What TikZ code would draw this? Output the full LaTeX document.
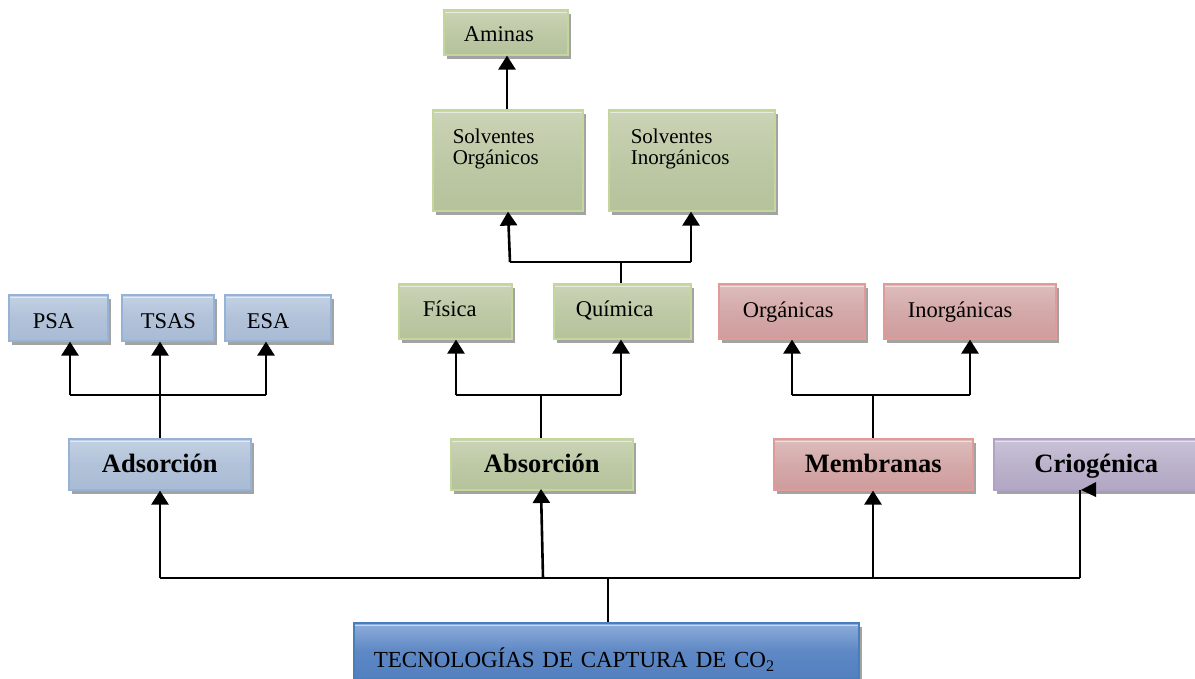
\documentclass[tikz,border=0pt]{standalone}
\usepackage{fontspec}
\setmainfont{Liberation Serif}
\usetikzlibrary{arrows.meta,shadows}

% palette
\definecolor{bluefillA}{HTML}{C4D1E3}
\definecolor{bluefillB}{HTML}{A9BBD4}
\definecolor{blueedge}{HTML}{95B3D7}
\definecolor{greenfillA}{HTML}{CBD4B6}
\definecolor{greenfillB}{HTML}{B5C29B}
\definecolor{greenedge}{HTML}{C3D69B}
\definecolor{redfillA}{HTML}{DDBDBD}
\definecolor{redfillB}{HTML}{CF9C9C}
\definecolor{rededge}{HTML}{E19A9A}
\definecolor{purpfillA}{HTML}{CAC3D7}
\definecolor{purpfillB}{HTML}{B2A7C4}
\definecolor{purpedge}{HTML}{B3A2C7}
\definecolor{mainfillA}{HTML}{8FAEDA}
\definecolor{mainfillB}{HTML}{527FC0}
\definecolor{mainedge}{HTML}{4A7EBB}
\definecolor{shadowgrey}{HTML}{A3A3A3}

\tikzset{
  box/.style={draw, line width=1.6pt, inner sep=0pt, anchor=north west,
    drop shadow={shadow xshift=3.5pt, shadow yshift=-4.5pt, fill=shadowgrey, opacity=1},
    path picture={\draw[white, opacity=0.55, line width=1.6pt]
      ([yshift=-2.6pt]path picture bounding box.north west) --
      ([yshift=-2.6pt]path picture bounding box.north east);}},
  bluebox/.style={box, draw=blueedge, top color=bluefillA, bottom color=bluefillB, middle color=bluefillB!70!bluefillA},
  greenbox/.style={box, draw=greenedge, top color=greenfillA, bottom color=greenfillB, middle color=greenfillB!60!greenfillA},
  redbox/.style={box, draw=rededge, top color=redfillA, bottom color=redfillB, middle color=redfillB!60!redfillA},
  purpbox/.style={box, draw=purpedge, top color=purpfillA, bottom color=purpfillB, middle color=purpfillB!60!purpfillA},
  mainbox/.style={box, draw=mainedge, top color=mainfillA, bottom color=mainfillB, middle color=mainfillB!80!mainfillA},
  small/.style={font=\fontsize{22.5}{25}\selectfont, align=left, text height=#1, text depth=0pt},
  small/.default=11pt,
  big/.style={font=\fontsize{26.5}{30}\selectfont\bfseries, align=center, text height=16pt, text depth=0pt},
  arr/.style={line width=2.6pt, -{Triangle[width=17pt,length=14pt]}},
  link/.style={line width=2.6pt},
  stem/.style={line width=2pt},
}

\begin{document}
\begin{tikzpicture}[x=1pt,y=-1pt]
\useasboundingbox (0,0) rectangle (1195,679);

% top row of absorption solvents
\node[greenbox, minimum width=124pt, minimum height=45pt, text width=84pt, small=19pt] (aminas) at (443,9) {Aminas};
\node[greenbox, minimum width=150pt, minimum height=101pt] (solorg) at (432,109)
  {\parbox[c][62pt][t]{110pt}{\fontsize{21}{21}\selectfont Solventes\\Orgánicos}};
\node[greenbox, minimum width=166pt, minimum height=101pt] (solinorg) at (608,109)
  {\parbox[c][62pt][t]{122pt}{\fontsize{21}{21}\selectfont Solventes\\Inorgánicos}};

% second-level branches
\node[bluebox, minimum width=99pt, minimum height=46pt, text width=51pt, small=21pt] (psa) at (8,294) {PSA};
\node[bluebox, minimum width=92pt, minimum height=46pt, text width=54pt, small=21pt] (tsas) at (121,294) {TSAS};
\node[bluebox, minimum width=106pt, minimum height=46pt, text width=62pt, small=21pt] (esa) at (224,294) {ESA};

\node[greenbox, minimum width=113pt, minimum height=55pt, text width=65pt, small] (fisica) at (398,283) {Física};
\node[greenbox, minimum width=137pt, minimum height=55pt, text width=93pt, small] (quimica) at (553,283) {Química};

\node[redbox, minimum width=146pt, minimum height=55pt, text width=98pt, small=13pt] (organ) at (718,283) {Orgánicas};
\node[redbox, minimum width=172pt, minimum height=55pt, text width=124pt, small=13pt] (inorgan) at (883,283) {Inorgánicas};

% technology families
\node[bluebox, minimum width=182pt, minimum height=51pt, big] (adsor) at (68,438) {Adsorción};
\node[greenbox, minimum width=182pt, minimum height=51pt, big] (absor) at (450,438) {Absorción};
\node[redbox, minimum width=199pt, minimum height=51pt, big] (membr) at (773,438) {Membranas};
\node[purpbox, minimum width=205pt, minimum height=51pt, big] (criog) at (993,438) {Criogénica};

% root
\node[mainbox, minimum width=505pt, minimum height=56pt, text width=465pt, align=left,
      font=\fontsize{23}{28}\selectfont, text height=33pt, text depth=0pt] (root) at (353,622)
      {TECNOLOGÍAS DE CAPTURA DE CO\textsubscript{2}};

% junction points
\coordinate (jroot) at (608,578);
\coordinate (jads) at (160,395);
\coordinate (jabs) at (541,395);
\coordinate (jmem) at (873,395);
\coordinate (jqui) at (621,262);

% root to families
\draw[stem] (root.north -| jroot) -- (jroot);
\draw[link] (160,578) -- (1080,578);
\draw[arr] (160,578) -- (adsor.south -| 160,0);
\draw[arr] (543,578) -- (541,489);
\draw[arr] (873,578) -- (membr.south -| 873,0);
\draw[link] (1080,578) -- (1080,490);
\fill (1081,490) -- (1096,482) -- (1096,497) -- cycle;

% adsorption branches
\draw[stem] (adsor.north -| jads) -- (jads);
\draw[link] (70,395) -- (266,395);
\draw[arr] (70,395) -- (psa.south -| 70,0);
\draw[arr] (jads) -- (tsas.south -| 160,0);
\draw[arr] (266,395) -- (esa.south -| 266,0);

% absorption branches
\draw[stem] (absor.north -| jabs) -- (jabs);
\draw[link] (456,395) -- (621,395);
\draw[arr] (456,395) -- (fisica.south -| 456,0);
\draw[arr] (621,395) -- (quimica.south -| 621,0);

% membrane branches
\draw[stem] (membr.north -| jmem) -- (jmem);
\draw[link] (792,395) -- (970,395);
\draw[arr] (792,395) -- (organ.south -| 792,0);
\draw[arr] (970,395) -- (inorgan.south -| 970,0);

% chemical solvents
\draw[stem] (quimica.north -| jqui) -- (jqui);
\draw[link] (510,262) -- (691,262);
\draw[arr] (510,262) -- (solorg.south -| 508,0);
\draw[arr] (691,262) -- (solinorg.south -| 691,0);
\draw[arr] (solorg.north -| 507,0) -- (aminas.south -| 507,0);
\end{tikzpicture}
\end{document}
